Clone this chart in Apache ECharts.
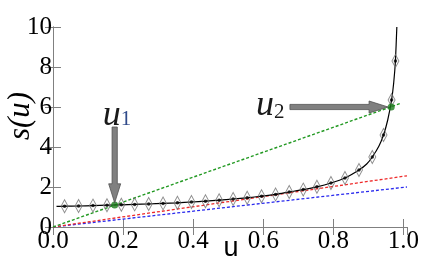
<!DOCTYPE html>
<html><head><meta charset="utf-8">
<script src="https://cdn.jsdelivr.net/npm/echarts@6/dist/echarts.min.js"></script>
<style>html,body{margin:0;padding:0;background:#fff}#c{width:436px;height:270px}</style>
</head><body><div id="c"></div>
<script>
// ---- data ----
const xTickStep = 0.2;
const yTickStep = 2;
const markerU = [0.033,0.073,0.114,0.154,0.195,0.233,0.273,0.314,0.355,0.395,0.435,0.474,0.514,0.554,0.595,0.635,0.674,0.714,0.753,0.793,0.833,0.873,0.911,0.943,0.966,0.977];
const markerS = [1.04,1.05,1.07,1.09,1.11,1.13,1.15,1.18,1.21,1.25,1.29,1.34,1.40,1.46,1.54,1.63,1.75,1.87,2.01,2.20,2.45,2.85,3.50,4.60,6.35,8.30];
const curveU = [0.01,0.033,0.073,0.114,0.154,0.195,0.233,0.273,0.314,0.355,0.395,0.435,0.474,0.514,0.554,0.595,0.635,0.674,0.714,0.753,0.793,0.833,0.873,0.895,0.911,0.93,0.943,0.955,0.966,0.972,0.977,0.981];
const curveS = [1.03,1.04,1.05,1.07,1.09,1.11,1.13,1.15,1.18,1.21,1.25,1.29,1.34,1.40,1.46,1.54,1.63,1.75,1.87,2.01,2.20,2.45,2.85,3.15,3.50,4.05,4.60,5.35,6.35,7.20,8.30,10.0];
const blueU = [0, 1.01], blueS = [0, 2.0];
const redU = [0, 1.01], redS = [0, 2.56];
const greenU = [0, 0.99], greenS = [0, 6.17];
const tangentU = [0.176, 0.965], tangentS = [1.10, 6.0];
const arrowFrom = [[0.176, 5.0], [0.676, 6.0]];
const arrowTo = [[0.176, 1.21], [0.956, 6.0]];
const labelAt = [[0.1906, 5.59], [0.6277, 6.09]];
const labelSub = ['1', '2'];

const zip = (a, b) => a.map((v, i) => [v, b[i]]);
const serif = 'Liberation Serif';

const chart = echarts.init(document.getElementById('c'), null, {renderer: 'canvas'});
const frame = {show: true, lineStyle: {color: '#808080', width: 1}};
const tick = {show: true, inside: true, length: 8, lineStyle: {color: '#808080', width: 1}};
const fmtX = v => Math.abs(v / xTickStep - Math.round(v / xTickStep)) < 1e-6 ? v.toFixed(1) : '';
const tickFont = {color: '#000', fontFamily: serif, fontSize: 25, fontStyle: 'normal', fontWeight: 'normal'};

chart.setOption({
  animation: false,
  backgroundColor: '#fff',
  textStyle: {fontFamily: serif},
  grid: {left: 53, right: 29, top: 27, bottom: 43, containLabel: false},
  xAxis: [
    {type: 'value', min: 0, max: 1.01, interval: xTickStep, position: 'bottom',
     axisLine: frame, axisTick: tick, splitLine: {show: false},
     axisLabel: Object.assign({formatter: fmtX, showMaxLabel: false, margin: 2}, tickFont)},
    {type: 'value', min: 0, max: 1.01, interval: xTickStep, position: 'top',
     axisLine: frame, axisTick: tick, splitLine: {show: false}, axisLabel: {show: false}}
  ],
  yAxis: [
    {type: 'value', min: 0, max: 10, interval: yTickStep, position: 'left',
     axisLine: frame, axisTick: tick, splitLine: {show: false},
     axisLabel: Object.assign({margin: 1}, tickFont)},
    {type: 'value', min: 0, max: 10, interval: yTickStep, position: 'right',
     axisLine: frame, axisTick: tick, splitLine: {show: false}, axisLabel: {show: false}}
  ],
  graphic: [
    {type: 'text', x: 21, y: 116, rotation: Math.PI / 2,
     style: {text: 's(u)', fontFamily: serif, fontStyle: 'italic', fontSize: 31, fill: '#000', align: 'center', verticalAlign: 'middle'}},
    {type: 'text', x: 231, y: 249,
     style: {text: 'u', fontFamily: 'Liberation Sans', fontSize: 27, fill: '#000', align: 'center', verticalAlign: 'middle'}}
  ],
  series: [
    {type: 'line', data: zip(blueU, blueS), symbol: 'none', lineStyle: {color: '#2a2aee', width: 1.3, type: [3, 2]}, z: 2},
    {type: 'line', data: zip(redU, redS), symbol: 'none', lineStyle: {color: '#ee2a2a', width: 1.3, type: [3, 2]}, z: 2},
    {type: 'line', data: zip(greenU, greenS), symbol: 'none', lineStyle: {color: '#229922', width: 1.4, type: [3, 2]}, z: 2},
    {type: 'line', data: zip(curveU, curveS), symbol: 'none', smooth: 0.2, lineStyle: {color: '#000', width: 1.2}, z: 3},
    {type: 'scatter', data: zip(markerU, markerS), symbol: 'diamond', symbolSize: [7, 13],
     itemStyle: {color: 'rgba(255,255,255,0)', borderColor: '#707070', borderWidth: 1}, z: 4},
    {type: 'scatter', data: zip(markerU, markerS), symbol: 'circle', symbolSize: 3.5,
     itemStyle: {color: '#000'}, z: 5},
    {type: 'scatter', data: zip(tangentU, tangentS), symbol: 'circle', symbolSize: 7,
     itemStyle: {color: '#1a7a1a'}, z: 6},
    {type: 'custom', z: 7, clip: false,
     data: arrowFrom.map((a, i) => [a[0], a[1], arrowTo[i][0], arrowTo[i][1]]),
     encode: {x: [0, 2], y: [1, 3]},
     renderItem: (params, api) => {
       const p1 = api.coord([api.value(0), api.value(1)]);
       const p2 = api.coord([api.value(2), api.value(3)]);
       const dx = p2[0] - p1[0], dy = p2[1] - p1[1];
       const L = Math.hypot(dx, dy);
       const ux = dx / L, uy = dy / L, nx = -uy, ny = ux;
       const sw = 2.6, hw = 6, hl = 19;
       const bx = p2[0] - ux * hl, by = p2[1] - uy * hl;
       const pts = [
         [p1[0] + nx * sw, p1[1] + ny * sw], [bx + nx * sw, by + ny * sw], [bx + nx * hw, by + ny * hw],
         [p2[0], p2[1]],
         [bx - nx * hw, by - ny * hw], [bx - nx * sw, by - ny * sw], [p1[0] - nx * sw, p1[1] - ny * sw]
       ];
       return {type: 'polygon', shape: {points: pts}, style: {fill: '#808080', stroke: '#505050', lineWidth: 0.8}};
     }},
    {type: 'custom', z: 8, clip: false,
     data: labelAt.map((p, i) => [p[0], p[1], i]),
     encode: {x: 0, y: 1},
     renderItem: (params, api) => {
       const p = api.coord([api.value(0), api.value(1)]);
       const i = api.value(2);
       return {type: 'group', children: [
         {type: 'text', x: p[0] + 1, y: p[1], style: {text: 'u', fontFamily: serif, fontStyle: 'italic', fontSize: 36, fill: '#1a1a1a', align: 'right', verticalAlign: 'middle'}},
         {type: 'text', x: p[0] + 1, y: p[1] + (i === 0 ? 4 : 7), style: {text: labelSub[i], fontFamily: serif, fontSize: 21, fill: i === 0 ? '#2f4a8a' : '#1a1a1a', align: 'left', verticalAlign: 'middle'}}
       ]};
     }}
  ]
});
</script>
</body></html>
